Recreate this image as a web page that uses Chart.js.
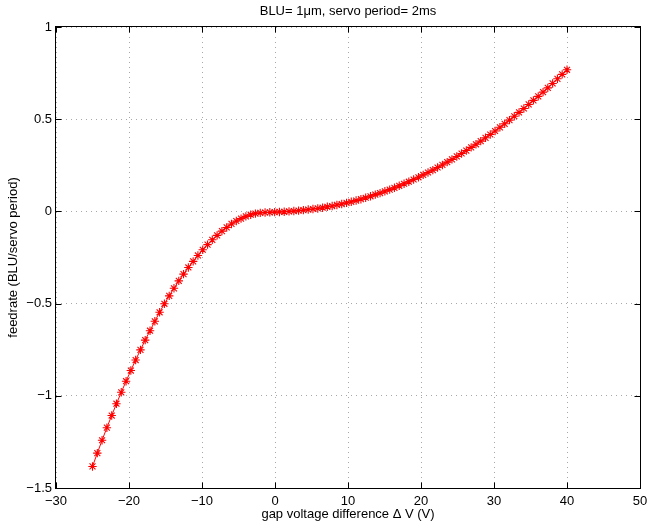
<!DOCTYPE html>
<html>
<head>
<meta charset="utf-8">
<script src="https://cdn.jsdelivr.net/npm/chart.js@4/dist/chart.umd.min.js"></script>
<style>
html,body{margin:0;padding:0;background:#fff;}
#wrap{width:647px;height:526px;}
</style>
</head>
<body>
<div id="wrap"><canvas id="c" width="647" height="526"></canvas></div>
<script>
const chartTitle = 'BLU= 1\u03bcm, servo period= 2ms';
const xAxisTitle = 'gap voltage difference \u0394 V (V)';
const yAxisTitle = 'feedrate (BLU/servo period)';

const xTickRange = [-30, 50];
const xTickStep = 10;
const yTickRange = [-1.5, 1];
const yTickStep = 0.5;

const gapVoltage = [
 -25.00,-24.34,-23.69,-23.03,-22.37,-21.72,-21.06,-20.40,-19.75,-19.09,
 -18.43,-17.78,-17.12,-16.46,-15.81,-15.15,-14.49,-13.84,-13.18,-12.53,
 -11.87,-11.21,-10.56,-9.90,-9.24,-8.59,-7.93,-7.27,-6.62,-5.96,
 -5.30,-4.65,-3.99,-3.33,-2.68,-2.02,-1.36,-0.71,-0.05,0.61,
 1.26,1.92,2.58,3.23,3.89,4.55,5.20,5.86,6.52,7.17,
 7.83,8.48,9.14,9.80,10.45,11.11,11.77,12.42,13.08,13.74,
 14.39,15.05,15.71,16.36,17.02,17.68,18.33,18.99,19.65,20.30,
 20.96,21.62,22.27,22.93,23.59,24.24,24.90,25.56,26.21,26.87,
 27.53,28.18,28.84,29.49,30.15,30.81,31.46,32.12,32.78,33.43,
 34.09,34.75,35.40,36.06,36.72,37.37,38.03,38.69,39.34,40.00
];

const feedrate = [
 -1.383,-1.311,-1.241,-1.173,-1.107,-1.043,-0.981,-0.921,-0.863,-0.806,
 -0.751,-0.698,-0.647,-0.596,-0.547,-0.501,-0.458,-0.417,-0.377,-0.340,
 -0.304,-0.271,-0.239,-0.208,-0.180,-0.154,-0.130,-0.107,-0.087,-0.068,
 -0.052,-0.039,-0.027,-0.018,-0.012,-0.008,-0.006,-0.005,-0.004,-0.003,
 -0.002,0.000,0.002,0.004,0.007,0.010,0.013,0.016,0.020,0.025,
 0.029,0.035,0.040,0.046,0.052,0.059,0.066,0.074,0.082,0.091,
 0.099,0.109,0.118,0.128,0.139,0.150,0.161,0.173,0.185,0.198,
 0.211,0.224,0.238,0.252,0.267,0.282,0.298,0.314,0.330,0.347,
 0.364,0.381,0.399,0.417,0.436,0.456,0.475,0.495,0.516,0.537,
 0.558,0.580,0.602,0.624,0.647,0.670,0.694,0.719,0.743,0.768
];

const points = gapVoltage.map((x, i) => ({x: x, y: feedrate[i]}));
const fmt = v => String(v).replace('-', '\u2212');

Chart.defaults.font.family = "'Liberation Sans', Arial, Helvetica, sans-serif";
Chart.defaults.font.size = 13;
Chart.defaults.color = '#000';

const framePlugin = {
  id: 'frame',
  afterDraw(chart) {
    const ctx = chart.ctx;
    const a = chart.chartArea;
    const xs = chart.scales.x, ys = chart.scales.y;
    const L = Math.round(a.left) - 0.5, R = Math.round(a.right) + 0.5;
    const T = Math.round(a.top) - 0.5, B = Math.round(a.bottom) + 0.5;
    ctx.save();
    ctx.strokeStyle = '#000';
    ctx.lineWidth = 1;
    ctx.beginPath();
    xs.ticks.forEach(t => {
      const p = Math.round(xs.getPixelForValue(t.value)) + 0.5;
      ctx.moveTo(p, B); ctx.lineTo(p, B - 6);
      ctx.moveTo(p, T); ctx.lineTo(p, T + 6);
    });
    ys.ticks.forEach(t => {
      const p = Math.round(ys.getPixelForValue(t.value)) + 0.5;
      ctx.moveTo(L, p); ctx.lineTo(L + 6, p);
      ctx.moveTo(R, p); ctx.lineTo(R - 6, p);
    });
    ctx.stroke();
    ctx.strokeRect(L, T, R - L, B - T);
    ctx.restore();
  }
};

new Chart(document.getElementById('c'), {
  type: 'scatter',
  data: {
    datasets: [{
      data: points,
      showLine: true,
      borderColor: '#ff0000',
      borderWidth: 1,
      tension: 0,
      pointStyle: 'star',
      pointRadius: 4.2,
      pointBorderColor: '#ff0000',
      pointBorderWidth: 1.1,
      pointBackgroundColor: '#ff0000'
    }]
  },
  options: {
    responsive: false,
    animation: false,
    devicePixelRatio: 1,
    layout: { padding: { left: 0, right: 7, top: 0, bottom: 0 } },
    plugins: {
      legend: { display: false },
      tooltip: { enabled: false },
      title: {
        display: true,
        text: chartTitle,
        fullSize: false,
        color: '#000',
        font: { size: 13, weight: 'normal' },
        padding: { top: 4, bottom: 7.4 }
      }
    },
    scales: {
      x: {
        type: 'linear',
        min: xTickRange[0], max: xTickRange[1],
        ticks: { stepSize: xTickStep, callback: fmt, padding: 6, color: '#000', maxRotation: 0 },
        grid: { color: '#a8a8a8', lineWidth: 1, drawTicks: false },
        border: { display: false, dash: [1, 4] },
        title: { display: true, text: xAxisTitle, color: '#000', font: { size: 13 }, padding: { top: 0, bottom: 4 } },
        afterFit(s) { s.height = 38; s.paddingLeft = 0; s.paddingRight = 0; }
      },
      y: {
        type: 'linear',
        min: yTickRange[0], max: yTickRange[1],
        ticks: { stepSize: yTickStep, callback: fmt, padding: 4, color: '#000' },
        grid: { color: '#a8a8a8', lineWidth: 1, drawTicks: false },
        border: { display: false, dash: [1, 4] },
        title: { display: true, text: yAxisTitle, color: '#000', font: { size: 13 }, padding: { top: 6, bottom: 0 } },
        afterFit(s) { s.width = 56; s.paddingTop = 0; s.paddingBottom = 0; }
      }
    }
  },
  plugins: [framePlugin]
});
</script>
</body>
</html>
